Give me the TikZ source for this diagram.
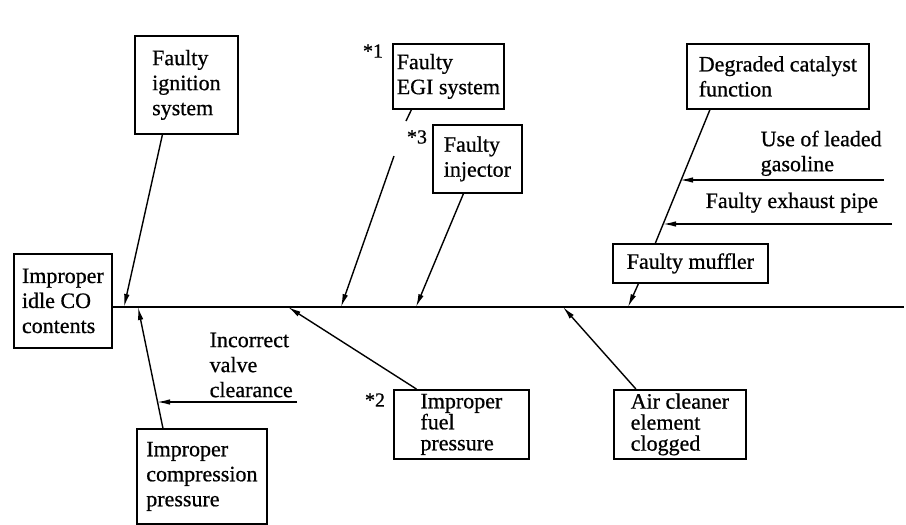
\documentclass[tikz,border=0pt]{standalone}
\usepackage{fontspec}
\setmainfont{Liberation Serif}[FakeBold=0.7]
\usetikzlibrary{arrows.meta}

\begin{document}
\begin{tikzpicture}[
  x=1pt, y=-1pt,
  line width=1.4pt,
  box/.style={draw, line width=1.8pt, align=left, anchor=north west, inner sep=0pt, font=\fontsize{22}{25}\selectfont},
  tight/.style={box, font=\fontsize{22}{21}\selectfont},
  note/.style={align=left, anchor=north west, inner sep=0pt, font=\fontsize{22}{25}\selectfont},
  tag/.style={inner sep=0pt, font=\fontsize{20}{20}\selectfont},
  arrow/.style={-{Latex[length=13pt, width=5.5pt]}, line width=1.4pt}
]
\useasboundingbox (0,0) rectangle (906,525);

% effect and main spine
\node[box, minimum width=98pt, minimum height=94pt] (idle) at (13,253) {Improper\\idle CO\\contents};
\coordinate (tail) at (904,307);
\draw (idle.east |- tail) -- (tail);

% where the causes meet the spine
\coordinate (s1) at (124,307);
\coordinate (s2) at (138,307);
\coordinate (s3) at (288,307);
\coordinate (s4) at (341,307);
\coordinate (s5) at (416,307);
\coordinate (s6) at (563,307);
\coordinate (s7) at (628,307);

% causes above
\node[box, minimum width=103pt, minimum height=98pt] (ign) at (134,35) {Faulty\\ignition\\system};
\node[box, minimum width=111pt, minimum height=65pt] (egi) at (392,43) {Faulty\\EGI system};
\node[box, minimum width=89pt, minimum height=68pt] (inj) at (432,124) {Faulty\\injector};
\node[box, minimum width=182pt, minimum height=65pt] (cat) at (686,43) {Degraded catalyst\\function};
\node[box, minimum width=155pt, minimum height=39pt] (muf) at (612,243) {Faulty muffler};

% causes below
\node[box, minimum width=130pt, minimum height=95pt] (comp) at (136,428) {Improper\\compression\\pressure};
\node[tight, minimum width=135pt, minimum height=69pt] (fuel) at (393,389) {Improper\\fuel\\pressure};
\node[tight, minimum width=132pt, minimum height=69pt] (air) at (613,389) {Air cleaner\\element\\clogged};

\node[tag] (t1) at (373,51) {*1};
\node[tag] (t2) at (375,400) {*2};
\node[tag] (t3) at (417,137) {*3};

% sub-causes
\node[note] (valve) at (209,332) {Incorrect\\valve\\clearance};
\node[note] (lead) at (760,130) {Use of leaded\\gasoline};
\node[note] (exh) at (705,192) {Faulty exhaust pipe};

\coordinate (vr) at (297,402);
\coordinate (vj) at (157,402);
\coordinate (lr) at (884,180);
\coordinate (lj) at (680,180);
\coordinate (er) at (892,224);
\coordinate (ej) at (663,224);
\coordinate (g1) at (406,121);
\coordinate (g2) at (394,156);

\draw[arrow] ([xshift=-24pt]ign.south) -- (s1);
\draw[arrow] ([xshift=-39pt]comp.north) -- (s2);
\draw[arrow] (vr) -- (vj);
\draw[arrow] ([xshift=-45pt]fuel.north) -- (s3);
\draw ([xshift=-37pt]egi.south) -- (g1);
\draw[arrow] (g2) -- (s4);
\draw[arrow] ([xshift=-14pt]inj.south) -- (s5);
\draw[arrow] ([xshift=-44pt]air.north) -- (s6);
\draw[arrow] ([xshift=-52pt]muf.south) -- (s7);
\draw ([xshift=-68pt]cat.south) -- ([xshift=-35pt]muf.north);
\draw[arrow] (lr) -- (lj);
\draw[arrow] (er) -- (ej);
\end{tikzpicture}
\end{document}
